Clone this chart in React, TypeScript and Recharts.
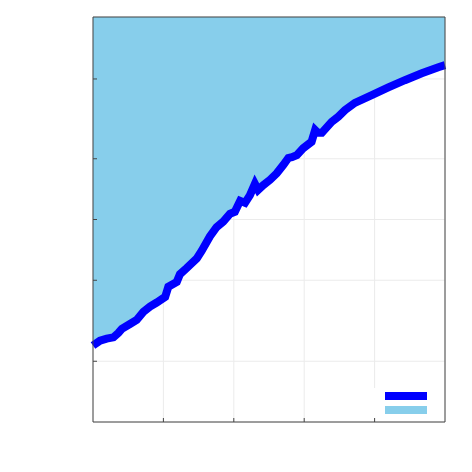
import React from 'react';
import { ComposedChart, Area, Line, XAxis, YAxis, CartesianGrid, Legend } from 'recharts';

// curve (x in 0..100, y in 0..100)
const xs = [
  0, 2.0, 3.9, 5.8, 7.2, 8.2, 10.5, 12.4, 14.3, 16.2, 18.1, 20.5, 21.4, 23.8, 24.7, 26.6, 29.5,
  30.9, 33.2, 35.1, 37.0, 38.9, 40.3, 41.8, 43.2, 44.6, 46.0, 46.9, 48.4, 50.3, 52.2, 54.1, 55.5,
  56.5, 57.9, 59.7, 62.1, 63.1, 63.9, 65.0, 67.8, 69.7, 71.6, 74.4, 79.2, 83.9, 88.6, 93.4, 98.1, 100,
];
const ys = [
  18.9, 20.1, 20.6, 20.9, 22.0, 23.0, 24.2, 25.2, 27.2, 28.5, 29.5, 30.9, 33.4, 34.6, 36.5, 38.0, 40.4,
  42.3, 45.8, 48.1, 49.5, 51.4, 51.9, 54.6, 54.1, 56.0, 58.8, 57.3, 58.5, 59.8, 61.4, 63.5, 65.2,
  65.4, 65.9, 67.6, 69.2, 72.1, 71.4, 71.4, 74.1, 75.4, 77.0, 78.8, 80.7, 82.6, 84.4, 86.1, 87.6, 88.1,
];
const xTicks = [20, 40, 60, 80];
const yTicks = [15, 35, 50, 65, 84.7];

const series = [
  { name: 'line', color: '#0000FF' },
  { name: 'fill', color: '#87CEEB' },
];

const data = xs.map((x, i) => ({ x, v: ys[i] }));

const AXIS = '#444';

const LeftTick = (p: any) => <line x1={p.x} x2={p.x + 4} y1={p.y} y2={p.y} stroke={AXIS} strokeWidth={1} />;
const RightTick = (p: any) => <line x1={p.x} x2={p.x - 4} y1={p.y} y2={p.y} stroke={AXIS} strokeWidth={1} />;
const BottomTick = (p: any) => <line x1={p.x} x2={p.x} y1={p.y} y2={p.y - 4} stroke={AXIS} strokeWidth={1} />;

const LegendBox = () => (
  <div style={{ background: '#fff', boxSizing: 'border-box', width: 62, height: 30, padding: '4px 0 0 13px' }}>
    {series.map((s) => (
      <div key={s.name} style={{ width: 42, height: 8, background: s.color, marginBottom: 6 }} />
    ))}
  </div>
);

export default function App() {
  return (
    <div style={{ position: 'absolute', left: 0, top: 0, width: 472, height: 472, background: '#fff' }}>
      <ComposedChart width={472} height={472} data={data} margin={{ top: 16, right: 26, bottom: 49, left: 92 }}>
        <CartesianGrid stroke="#ebebeb" strokeWidth={1} />
        <Area
          dataKey="v"
          type="linear"
          baseValue={100}
          stroke="none"
          fill={series[1].color}
          fillOpacity={1}
          isAnimationActive={false}
        />
        <Line dataKey="v" type="linear" stroke={series[0].color} strokeWidth={8} dot={false} isAnimationActive={false} />
        <XAxis
          dataKey="x"
          type="number"
          domain={[0, 100]}
          ticks={xTicks}
          height={1}
          tickSize={0}
          tickMargin={0}
          tickLine={false}
          tick={BottomTick}
          axisLine={{ stroke: AXIS }}
        />
        <XAxis xAxisId="top" orientation="top" dataKey="x" type="number" domain={[0, 100]} height={1} tick={false} tickLine={false} axisLine={{ stroke: AXIS }} />
        <YAxis
          type="number"
          domain={[0, 100]}
          ticks={yTicks}
          width={1}
          tickSize={0}
          tickMargin={0}
          tickLine={false}
          tick={LeftTick}
          axisLine={{ stroke: AXIS }}
        />
        <YAxis
          yAxisId="right"
          orientation="right"
          type="number"
          domain={[0, 100]}
          ticks={yTicks}
          width={1}
          tickSize={0}
          tickMargin={0}
          tickLine={false}
          tick={RightTick}
          axisLine={{ stroke: AXIS }}
        />
        <Legend
          layout="horizontal"
          verticalAlign="middle"
          align="center"
          content={<LegendBox />}
          wrapperStyle={{ position: 'absolute', left: 372, top: 388, width: 62, height: 30, bottom: 'auto', right: 'auto' }}
        />
      </ComposedChart>
    </div>
  );
}
